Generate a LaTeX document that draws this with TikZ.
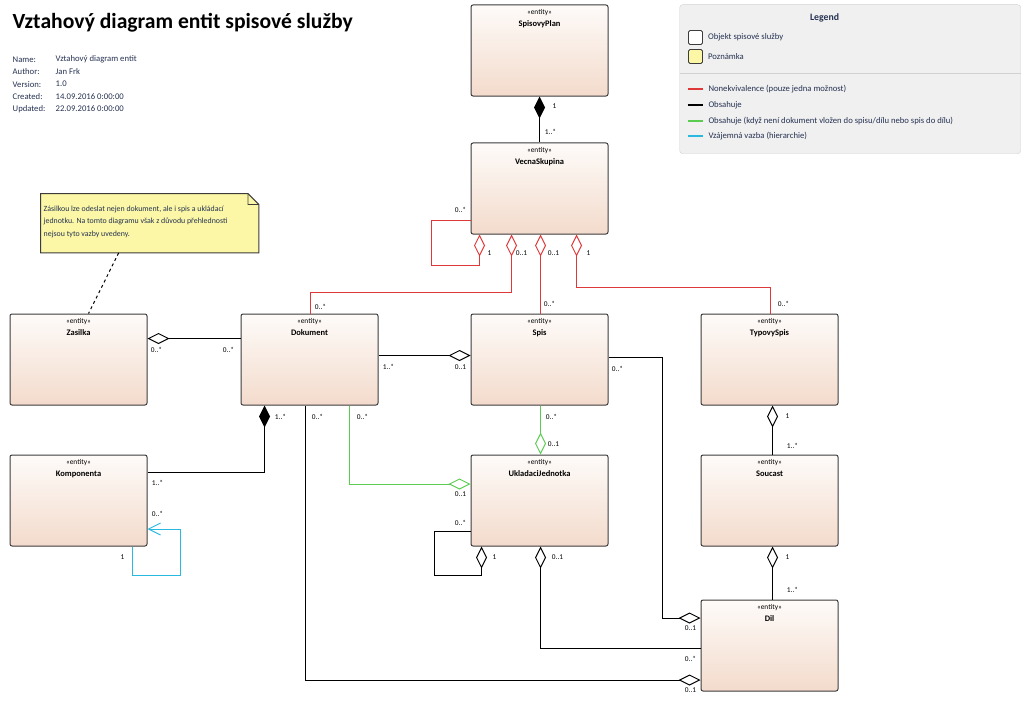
\documentclass[tikz,border=0pt]{standalone}
\usepackage{fontspec}
\setmainfont{Carlito}
\usetikzlibrary{arrows.meta,positioning,backgrounds}
\definecolor{ESpeach}{RGB}{243,219,204}
\definecolor{EStop}{RGB}{254,251,249}
\definecolor{ESedge}{RGB}{60,60,60}
\definecolor{ESnote}{RGB}{251,247,166}
\definecolor{ESred}{RGB}{222,56,56}
\definecolor{ESgreen}{RGB}{90,205,80}
\definecolor{EScyan}{RGB}{40,185,225}
\definecolor{ESnavy}{RGB}{38,50,82}
\definecolor{ESlegend}{RGB}{240,240,240}
\tikzset{
  es/entity/.style={draw=ESedge, line width=1bp, rounded corners=2bp, top color=EStop, bottom color=ESpeach, minimum width=137bp, minimum height=91bp, inner sep=0pt, anchor=north west},
  es/head/.style={anchor=north, align=center, inner sep=0pt, yshift=-5bp, font=\fontsize{7.4}{12}\selectfont},
  es/card/.style={font=\fontsize{7.4}{9}\selectfont, inner sep=0pt},
  es/obs/.style={line width=1bp, black},
  es/nonek/.style={line width=1bp, ESred},
  es/obsz/.style={line width=1bp, ESgreen},
  es/vaz/.style={line width=1bp, EScyan},
  es/agg/.style={{Diamond[open, length=22bp, width=11bp, line width=1bp]}-},
  es/comp/.style={{Diamond[length=22bp, width=11bp]}-},
  es/meta/.style={anchor=west, inner sep=0pt, text=ESnavy, font=\fontsize{8.7}{10}\selectfont},
  es/legtext/.style={anchor=west, inner sep=0pt, text=ESnavy, font=\fontsize{8.7}{10}\selectfont},
  es/legline/.style={line width=2bp},
  es/swatch/.style={draw=ESedge, line width=0.8bp, rounded corners=1.5bp, minimum size=14bp, inner sep=0pt}
}
\newcommand{\esname}[1]{{\fontsize{8.5}{10}\selectfont\bfseries #1}}

\begin{document}
\begin{tikzpicture}[x=1bp, y=-1bp]
  \useasboundingbox (-0.5,-0.5) rectangle (1023.5,701.5);

  % header
  \node[anchor=west, inner sep=0pt, font=\fontsize{21.7}{24}\selectfont\bfseries] (title) at (12,22) {Vztahový diagram entit spisové služby};
  \foreach \k/\v [count=\i] in {Name:/Vztahový diagram entit, Author:/Jan Frk, Version:/1.0, Created:/14.09.2016 0:00:00, Updated:/22.09.2016 0:00:00}{
    \node[es/meta] (metaK\i) at (12,{59+(\i-1)*12.3}) {\k};
    \node[es/meta] (metaV\i) at (55,{59+(\i-1)*12.3}) {\v};
  }

  % legend
  \node[anchor=north west, fill=ESlegend, draw=black!18, rounded corners=3bp, minimum width=341bp, minimum height=149bp, inner sep=0pt] (leg) at (679,4) {};
  \node[text=ESnavy, font=\fontsize{9.8}{11}\selectfont\bfseries, inner sep=0pt] (legT) at (824,17) {Legend};
  \node[es/swatch, fill=white] (lgO) at (695,37) {};
  \node[es/legtext, right=5bp of lgO] (lgOt) {Objekt spisové služby};
  \node[es/swatch, fill=ESnote] (lgP) at (695,56) {};
  \node[es/legtext, right=5bp of lgP] (lgPt) {Poznámka};
  \draw[black!18] ([yshift=-69bp]leg.north west) -- ([yshift=-69bp]leg.north east);
  \coordinate (lg1) at (687,89);
  \coordinate (lg2) at (687,105);
  \coordinate (lg3) at (687,121);
  \coordinate (lg4) at (687,136);
  \draw[es/nonek, es/legline] (lg1) -- ++(15,0) node[es/legtext, right=5bp] (lg1t) {Nonekvivalence (pouze jedna možnost)};
  \draw[es/obs, es/legline] (lg2) -- ++(15,0) node[es/legtext, right=5bp] (lg2t) {Obsahuje};
  \draw[es/obsz, es/legline] (lg3) -- ++(15,0) node[es/legtext, right=5bp] (lg3t) {Obsahuje (když není dokument vložen do spisu/dílu nebo spis do dílu)};
  \draw[es/vaz, es/legline] (lg4) -- ++(15,0) node[es/legtext, right=5bp] (lg4t) {Vzájemná vazba (hierarchie)};

  % entities
  \node[es/entity] (sp) at (470,4) {};
  \node[es/head] (spT) at (sp.north) {«entity»\\\esname{SpisovyPlan}};
  \node[es/entity] (vs) at (470,142) {};
  \node[es/head] (vsT) at (vs.north) {«entity»\\\esname{VecnaSkupina}};
  \node[es/entity] (zas) at (9,313) {};
  \node[es/head] (zasT) at (zas.north) {«entity»\\\esname{Zasilka}};
  \node[es/entity] (dok) at (240,313) {};
  \node[es/head] (dokT) at (dok.north) {«entity»\\\esname{Dokument}};
  \node[es/entity] (spis) at (470,313) {};
  \node[es/head] (spisT) at (spis.north) {«entity»\\\esname{Spis}};
  \node[es/entity] (ts) at (700,313) {};
  \node[es/head] (tsT) at (ts.north) {«entity»\\\esname{TypovySpis}};
  \node[es/entity] (komp) at (9,454) {};
  \node[es/head] (kompT) at (komp.north) {«entity»\\\esname{Komponenta}};
  \node[es/entity] (uj) at (470,454) {};
  \node[es/head] (ujT) at (uj.north) {«entity»\\\esname{UkladaciJednotka}};
  \node[es/entity] (sou) at (700,454) {};
  \node[es/head] (souT) at (sou.north) {«entity»\\\esname{Soucast}};
  \node[es/entity] (dil) at (700,599) {};
  \node[es/head] (dilT) at (dil.north) {«entity»\\\esname{Dil}};

  % note
  \node[anchor=north west, minimum width=218bp, minimum height=59bp, inner sep=0pt] (note) at (40,193) {};
  \node[anchor=north west, align=left, inner sep=0pt, text=ESnavy, font=\fontsize{7.9}{12.8}\selectfont] (noteT) at ([xshift=3bp,yshift=-12bp]note.north west) {Zásilkou lze odeslat nejen dokument, ale i spis a ukládací\\jednotku. Na tomto diagramu však z důvodu přehlednosti\\nejsou tyto vazby uvedeny.};
  \begin{scope}[on background layer]
    \draw[draw=ESedge, line width=1bp, fill=ESnote] (note.north west) -- ([xshift=-11bp]note.north east) -- ([yshift=-11bp]note.north east) -- (note.south east) -- (note.south west) -- cycle;
    \draw[draw=ESedge, line width=0.7bp] ([xshift=-11bp]note.north east) -- ++(0,11) -- ([yshift=-11bp]note.north east);
  \end{scope}
  \draw[dashed, line width=1bp] ([xshift=-31bp]note.south) -- ([xshift=10bp]zas.north);

  % connectors
  \draw[es/obs, es/comp] (sp.south) -- (vs.north);
  \draw[es/nonek, es/agg] ([xshift=9bp]vs.south west) -- ++(0,31) -- ++(-48,0) |- ([yshift=14bp]vs.south west);
  \draw[es/nonek, es/agg] ([xshift=41bp]vs.south west) -- ++(0,58) -| ([xshift=70bp]dok.north west);
  \draw[es/nonek, es/agg] ([xshift=70bp]vs.south west) -- ([xshift=70bp]spis.north west);
  \draw[es/nonek, es/agg] ([xshift=106bp]vs.south west) -- ++(0,53) -| ([xshift=70bp]ts.north west);
  \draw[es/obs, es/agg] ([yshift=21bp]zas.east) -- ([yshift=21bp]dok.west);
  \draw[es/obs, es/agg] ([yshift=4bp]spis.west) -- ([yshift=4bp]dok.east);
  \draw[es/obs, es/comp] ([xshift=24bp]dok.south west) |- ([yshift=28.5bp]komp.east);
  \draw[es/vaz, -{Straight Barb[length=12bp, width=12bp]}] ([xshift=-15bp]komp.south east) -- ++(0,29) -- ++(48,0) |- ([yshift=-28.5bp]komp.east);
  \draw[es/obsz, es/agg] ([yshift=16.5bp]uj.west) -| ([xshift=109bp]dok.south west);
  \draw[es/obsz, es/agg] ([xshift=70bp]uj.north west) -- ([xshift=70bp]spis.south west);
  \draw[es/obs, es/agg] ([xshift=11bp]uj.south west) -- ++(0,29) -- ++(-47,0) |- ([yshift=-30.5bp]uj.west);
  \draw[es/obs, es/agg] ([xshift=70bp]uj.south west) |- ([yshift=-2.5bp]dil.west);
  \draw[es/obs, es/agg] ([yshift=27.5bp]dil.west) -- ++(-38,0) |- ([yshift=2bp]spis.east);
  \draw[es/obs, es/agg] ([yshift=-34.5bp]dil.west) -| ([xshift=65bp]dok.south west);
  \draw[es/obs, es/agg] ([xshift=72bp]ts.south west) -- ([xshift=72bp]sou.north west);
  \draw[es/obs, es/agg] ([xshift=72bp]sou.south west) -- ([xshift=72bp]dil.north west);

  % cardinalities
  \foreach \x/\y/\t [count=\i] in {554/106/1, 550/131/1..*, 460/209/0..*,
      489/253/1, 521/253/0..1, 553/253/0..1, 588/253/1,
      320/306/0..*, 549/303/0..*, 783/303/0..*,
      156/349/0..*, 228/349/0..*, 388/366/1..*, 460/367/0..1, 617/368/0..*,
      280/416/1..*, 317/416/0..*, 362/416/0..*, 551/416/0..*, 787/416/1,
      792/445/1..*, 553/444/0..1, 157/482/1..*, 460/494/0..1,
      157/513/0..*, 460/522/0..*, 122/557/1, 494/557/1, 557/557/0..1, 787/557/1,
      792/589/1..*, 690/628/0..1, 690/658/0..*, 690/690/0..1}
    \node[es/card] (card\i) at (\x,\y) {\t};
\end{tikzpicture}
\end{document}
